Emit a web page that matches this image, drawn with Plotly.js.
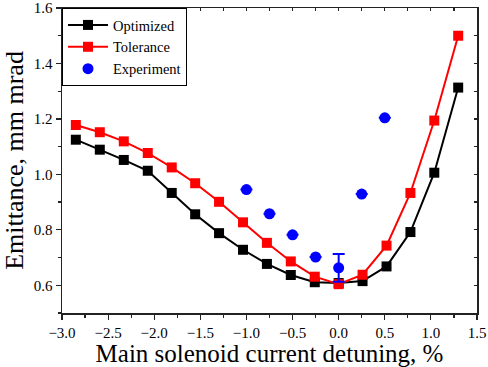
<!DOCTYPE html>
<html><head><meta charset="utf-8">
<script src="https://cdn.plot.ly/plotly-3.0.1.min.js"></script>
<style>body{margin:0;padding:0;background:#fff}#chart{width:488px;height:367px}</style>
</head><body><div id="chart"></div>
<script>
const detuning = [-2.85, -2.59, -2.33, -2.07, -1.81, -1.556, -1.297, -1.037, -0.778, -0.519, -0.259, 0, 0.259, 0.519, 0.778, 1.037, 1.296];
const optimized = [1.125, 1.089, 1.052, 1.013, 0.933, 0.856, 0.788, 0.728, 0.677, 0.637, 0.611, 0.608, 0.615, 0.668, 0.792, 1.006, 1.313];
const tolerance = [1.178, 1.152, 1.119, 1.077, 1.025, 0.968, 0.901, 0.827, 0.753, 0.686, 0.631, 0.604, 0.638, 0.743, 0.933, 1.194, 1.500];
const expDetuning = [-1.0, -0.75, -0.5, -0.25, 0, 0.25, 0.5];
const experiment = [0.945, 0.858, 0.782, 0.702, 0.663, 0.929, 1.204];
const expError = [0, 0, 0, 0, 0.05, 0, 0];

const font = 'Liberation Serif';
const traces = [
  {x: detuning, y: optimized, name: 'Optimized', mode: 'lines+markers',
   line: {color: '#000', width: 2}, marker: {symbol: 'square', size: 10, color: '#000'}},
  {x: detuning, y: tolerance, name: 'Tolerance', mode: 'lines+markers',
   line: {color: '#ff0000', width: 2}, marker: {symbol: 'square', size: 10, color: '#ff0000'}},
  {x: expDetuning, y: experiment, name: 'Experiment', mode: 'markers',
   marker: {symbol: 'circle', size: 11, color: '#0000ff'},
   error_y: {type: 'data', array: expError, visible: true, color: '#0000ff', thickness: 2, width: 6}},
  {x: [0], y: [1], xaxis: 'x2', yaxis: 'y2', showlegend: false, mode: 'markers',
   marker: {opacity: 0}, hoverinfo: 'skip'}
];
const axBase = {showgrid: false, zeroline: false, linecolor: '#222', linewidth: 1.5,
  ticklen: 5, tickwidth: 1.2, tickcolor: '#222'};
const layout = {
  width: 488, height: 367,
  margin: {l: 62, r: 11, t: 8, b: 54},
  paper_bgcolor: '#fff', plot_bgcolor: '#fff',
  font: {family: font, color: '#000'},
  showlegend: true,
  legend: {x: 0, y: 1, xanchor: 'left', yanchor: 'top', bordercolor: '#000', borderwidth: 1,
    bgcolor: '#fff', font: {family: font, size: 14.5}, tracegroupgap: 0, itemwidth: 40},
  xaxis: Object.assign({}, axBase, {range: [-3.0, 1.5], dtick: 0.5, tick0: -3, ticks: 'outside',
    tickformat: '.1f', tickfont: {family: font, size: 15},
    minor: {dtick: 0.25, ticks: 'outside', ticklen: 3, tickcolor: '#222'},
    title: {text: 'Main solenoid current detuning, %', font: {family: font, size: 25}, standoff: 1}}),
  yaxis: Object.assign({}, axBase, {range: [0.5, 1.6], dtick: 0.2, tick0: 0.6, ticks: 'outside',
    tickformat: '.1f', tickfont: {family: font, size: 15},
    minor: {dtick: 0.1, ticks: 'outside', ticklen: 3, tickcolor: '#222'},
    title: {text: 'Emittance, mm mrad', font: {family: font, size: 26}, standoff: 3}}),
  xaxis2: Object.assign({}, axBase, {range: [-3.0, 1.5], dtick: 0.25, ticks: 'inside', ticklen: 3,
    showticklabels: false, overlaying: 'x', side: 'top', anchor: 'y2'}),
  yaxis2: Object.assign({}, axBase, {range: [0.5, 1.6], dtick: 0.1, ticks: 'inside', ticklen: 3,
    showticklabels: false, overlaying: 'y', side: 'right', anchor: 'x2'})
};
Plotly.newPlot('chart', traces, layout, {displayModeBar: false, staticPlot: true});
</script></body></html>
